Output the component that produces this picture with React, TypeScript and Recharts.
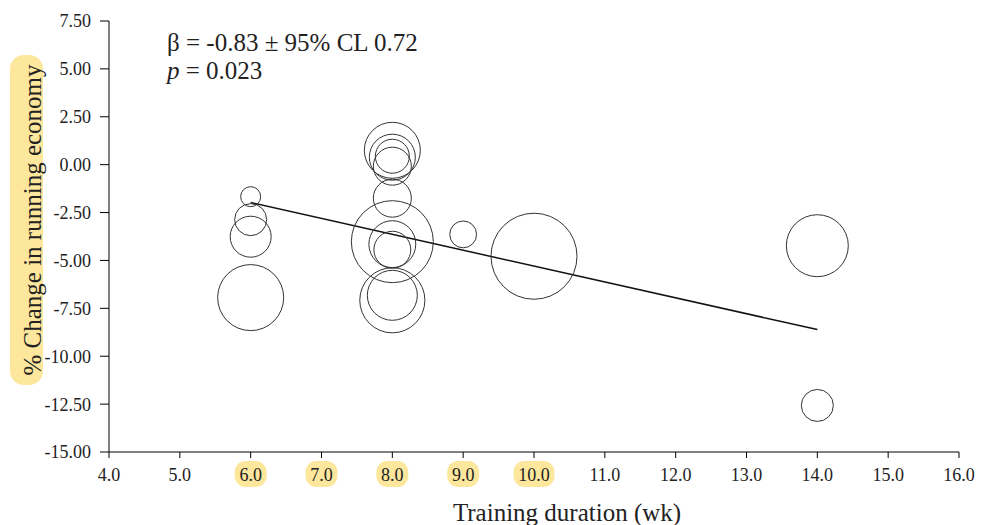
import React from 'react';
import { ScatterChart, Scatter, XAxis, YAxis, ZAxis, ReferenceLine } from 'recharts';

// training duration (wk), % change in running economy, study weight (bubble size)
const durations = [6, 6, 6, 6, 8, 8, 8, 8, 8, 8, 8, 8, 8, 8, 9, 10, 14, 14];
const changes = [-1.67, -2.87, -3.76, -6.94, 0.75, 0.39, 0.44, -0.08, -1.75, -4.02, -4.15, -4.44, -7.08, -6.82, -3.64, -4.78, -4.23, -12.57];
const weights = [1.0, 2.56, 4.2, 10.9, 7.84, 5.29, 2.89, 3.61, 3.61, 16.8, 5.5, 3.4, 10.6, 6.25, 1.8, 18.5, 9.6, 2.56];

// meta-regression line end points
const fitStart = { x: 6, y: -1.98 };
const fitEnd = { x: 14, y: -8.61 };

const xTicks = [4, 5, 6, 7, 8, 9, 10, 11, 12, 13, 14, 15, 16];
const yTicks = [-15, -12.5, -10, -7.5, -5, -2.5, 0, 2.5, 5, 7.5];
const highlightedWeeks = [6, 7, 8, 9, 10];

const FONT = "'Liberation Serif', 'Times New Roman', serif";
const INK = '#222';
const HIGHLIGHT = '#fce79c';

const bubbles = durations.map((x, i) => ({ x, y: changes[i], z: weights[i] }));

const XTick = (props: any) => {
  const { x, y, payload } = props;
  const label = Number(payload.value).toFixed(1);
  const w = label.length * 9 + 5;
  const hl = highlightedWeeks.includes(payload.value);
  return (
    <g>
      {hl && <rect x={x - w / 2} y={y + 1} width={w} height={26} rx={11} fill={HIGHLIGHT} />}
      <text x={x} y={y + 20.5} textAnchor="middle" style={{ fontFamily: FONT }} fontSize={18} fill={INK}>
        {label}
      </text>
    </g>
  );
};

export default function App() {
  return (
    <div style={{ position: 'absolute', left: 0, top: 0, width: 987, height: 525, background: '#fff', fontFamily: FONT }}>
      <ScatterChart width={987} height={525} margin={{ top: 21, right: 28, bottom: 0, left: 0 }}>
        <XAxis
          type="number"
          dataKey="x"
          domain={[4, 16]}
          ticks={xTicks}
          interval={0}
          tickSize={6}
          tickMargin={2}
          height={73}
          stroke="#000"
          tick={<XTick />}
        />
        <YAxis
          type="number"
          dataKey="y"
          domain={[-15, 7.5]}
          ticks={yTicks}
          interval={0}
          width={109}
          tickSize={9}
          tickMargin={9}
          stroke="#000"
          tickFormatter={(v: number) => v.toFixed(2)}
          tick={{ fill: INK, fontSize: 18, style: { fontFamily: FONT } }}
        />
        <ZAxis type="number" dataKey="z" domain={[0, 20]} range={[0, 6283]} />
        <Scatter data={bubbles} fill="none" stroke="#333" strokeWidth={1} isAnimationActive={false} />
        <ReferenceLine segment={[fitStart, fitEnd]} stroke="#111" strokeWidth={1.5} />
      </ScatterChart>
      <svg width={987} height={525} style={{ position: 'absolute', left: 0, top: 0, pointerEvents: 'none', fontFamily: FONT }}>
        <text x={167} y={51} fontSize={25} fill={INK}>
          β = -0.83 ± 95% CL 0.72
        </text>
        <text x={167} y={79} fontSize={25} fill={INK}>
          <tspan fontStyle="italic">p</tspan> = 0.023
        </text>
        <rect x={10} y={55} width={33} height={330} rx={14} fill={HIGHLIGHT} />
        <text x={41} y={220} transform="rotate(-90 41 220)" textAnchor="middle" fontSize={25} fill={INK}>
          % Change in running economy
        </text>
        <text x={567} y={521} textAnchor="middle" fontSize={25} fill={INK}>
          Training duration (wk)
        </text>
      </svg>
    </div>
  );
}
